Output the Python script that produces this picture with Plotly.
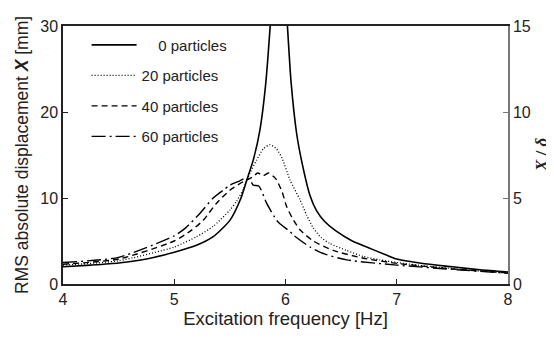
import plotly.graph_objects as go

# ---- data ----
freq_0 = [4.0, 4.25, 4.5, 4.75, 5.0, 5.2, 5.35, 5.5, 5.6, 5.65, 5.71, 5.77, 5.82, 5.865, 5.9, 5.94,
          5.98, 6.015, 6.05, 6.1, 6.15, 6.22, 6.28, 6.35, 6.45, 6.6, 6.73, 6.9, 7.0, 7.25, 7.5, 7.75, 8.0]
disp_0 = [2.0, 2.2, 2.45, 2.9, 3.7, 4.5, 5.5, 7.4, 10.0, 12.0, 14.4, 17.9, 23.0, 30.5, 38, 45,
          38, 30.5, 23.5, 17.5, 14.0, 10.3, 8.5, 7.3, 6.2, 5.0, 4.3, 3.4, 2.9, 2.35, 2.0, 1.65, 1.4]

freq_20 = [4.0, 4.5, 5.0, 5.2, 5.35, 5.5, 5.56, 5.62, 5.68, 5.74, 5.8, 5.86, 5.92, 5.97, 6.04, 6.13,
           6.19, 6.25, 6.32, 6.4, 6.55, 6.7, 6.85, 7.0, 7.25, 7.5, 7.75, 8.0]
disp_20 = [2.2, 2.7, 4.3, 5.5, 6.7, 8.6, 9.6, 11.0, 12.9, 14.4, 15.7, 16.2, 15.7, 14.6, 12.1, 9.8,
           8.0, 6.5, 5.4, 4.7, 3.9, 3.2, 2.8, 2.5, 2.1, 1.8, 1.5, 1.3]

freq_40 = [4.0, 4.5, 5.0, 5.15, 5.26, 5.38, 5.5, 5.62, 5.7, 5.75, 5.8, 5.85, 5.9, 5.92, 5.97, 6.01,
           6.06, 6.13, 6.25, 6.43, 6.7, 7.0, 7.5, 8.0]
disp_40 = [2.3, 2.9, 5.0, 6.2, 7.4, 9.4, 10.9, 11.9, 12.4, 12.9, 12.6, 12.9, 12.4, 12.1, 10.7, 9.0,
           7.7, 6.3, 5.0, 3.9, 3.0, 2.4, 1.75, 1.3]

freq_60 = [4.0, 4.5, 5.0, 5.1, 5.23, 5.35, 5.44, 5.5, 5.59, 5.64, 5.68, 5.71, 5.76, 5.83, 5.92, 5.95,
           6.04, 6.07, 6.22, 6.35, 6.55, 7.0, 7.5, 8.0]
disp_60 = [2.5, 3.1, 5.6, 6.5, 8.2, 10.0, 10.9, 11.5, 12.0, 12.3, 12.1, 11.5, 11.4, 9.4, 7.4, 7.0,
           6.1, 5.7, 4.3, 3.5, 2.8, 2.2, 1.7, 1.25]

series_names = ["\u2007\u20070 particles", "20 particles", "40 particles", "60 particles"]
x_ticks = [4, 5, 6, 7, 8]
y_ticks = [0, 10, 20, 30]
y2_ticks = [0, 5, 10, 15]

FONT = "Arial, Liberation Sans, sans-serif"

fig = go.Figure()
styles = [
    dict(color="black", width=1.6, dash="solid"),
    dict(color="black", width=1.3, dash="1px,2px"),
    dict(color="black", width=1.4, dash="6px,4px"),
    dict(color="black", width=1.4, dash="14px,4px,2px,4px"),
]
data = [(freq_0, disp_0), (freq_20, disp_20), (freq_40, disp_40), (freq_60, disp_60)]
for i, ((fx, fy), name, st) in enumerate(zip(data, series_names, styles)):
    fig.add_trace(go.Scatter(x=fx, y=fy, mode="lines", name=name,
                             line=dict(**st, shape="spline", smoothing=0.6),
                             legendgroup=f"g{i}", hoverinfo="skip"))

# dummy trace to show the secondary axis
fig.add_trace(go.Scatter(x=[None], y=[None], yaxis="y2", showlegend=False, hoverinfo="skip"))

# the page body adds an 8px margin around the figure
fig.update_layout(
    width=546, height=326,
    margin=dict(l=55, r=46, t=18, b=50),
    paper_bgcolor="white", plot_bgcolor="white",
    font=dict(family=FONT, color="#222", size=16),
    showlegend=True,
    legend=dict(x=0.053, y=0.99, xanchor="left", yanchor="top",
                bgcolor="rgba(0,0,0,0)", font=dict(size=15, family=FONT, color="#222"),
                traceorder="grouped", tracegroupgap=8, itemwidth=45),
    xaxis=dict(range=[4, 8], tickvals=x_ticks, ticks="inside", ticklen=5, tickcolor="#222",
               showgrid=False, zeroline=False, showline=True, linecolor="#222", linewidth=1.5,
               mirror=True, automargin=False,
               title=dict(text="Excitation frequency [Hz]", font=dict(size=18.5), standoff=4),
               tickfont=dict(size=16)),
    yaxis=dict(range=[0, 30], tickvals=y_ticks, ticks="inside", ticklen=5, tickcolor="#222",
               showgrid=False, zeroline=False, showline=True, linecolor="#222", linewidth=1.5,
               automargin=False,
               title=dict(text="RMS absolute displacement <b><i>X</i></b> [mm]", font=dict(size=17.5),
                          standoff=7),
               tickfont=dict(size=16)),
    yaxis2=dict(range=[0, 15], tickvals=y2_ticks, overlaying="y", side="right",
                ticks="inside", ticklen=5, tickcolor="#777", automargin=False,
                showgrid=False, zeroline=False, showline=True, linecolor="#777", linewidth=1.5,
                tickfont=dict(size=16)),
    annotations=[dict(text="<b><i>X</i> / <i>δ</i></b>", xref="paper", yref="paper",
                      x=1.0, xshift=33, y=0.5, textangle=-90, showarrow=False,
                      xanchor="center", yanchor="middle",
                      font=dict(size=17, family="Liberation Serif, Times New Roman, serif", color="#222"))],
)

fig.write_html("out.html")
